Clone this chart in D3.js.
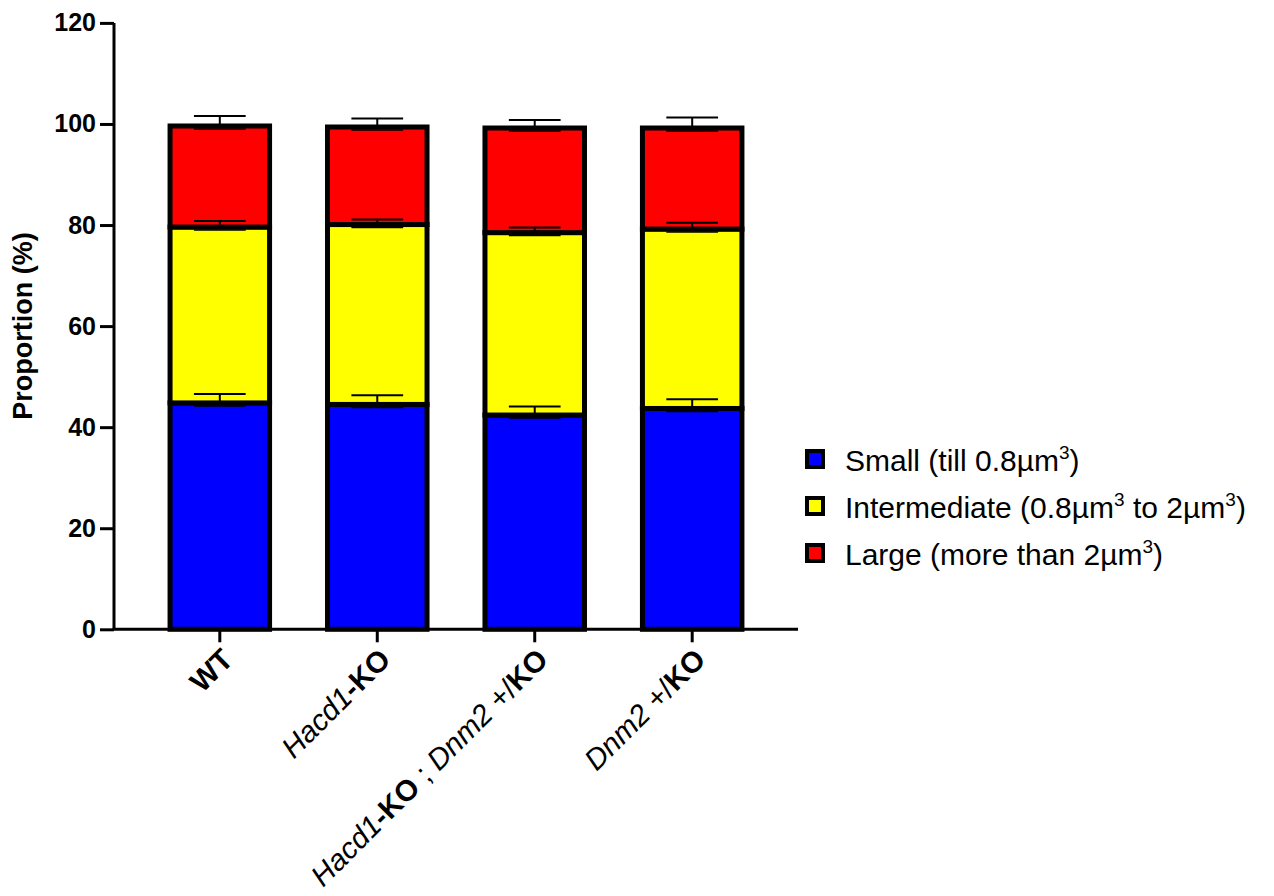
<!DOCTYPE html>
<html>
<head>
<meta charset="utf-8">
<script src="https://cdn.jsdelivr.net/npm/d3@7"></script>
<style>
  body { margin: 0; background: #fff; }
  text { font-family: "Liberation Sans", Arial, sans-serif; fill: #000; }
</style>
</head>
<body>
<div id="chart"></div>
<script>
// groups on the x axis
var groups = ["WT", "Hacd1-KO", "Hacd1-KO ; Dnm2 +/KO", "Dnm2 +/KO"];

// how each group label is typed (text, style)
var groupLabelParts = [
    [["WT", "b"]],
    [["Hacd1", "i"], ["-KO", "b"]],
    [["Hacd1", "i"], ["-KO", "b"], [" ; ", "n"], ["Dnm2", "i"], [" +/", "n"], ["KO", "b"]],
    [["Dnm2", "i"], [" +/", "n"], ["KO", "b"]]
];

// size classes, stacked bottom to top
var sizeClasses = ["small", "intermediate", "large"];
var classColors = ["#0000ff", "#ffff00", "#ff0000"];
var legendParts = [
    [["Small (till 0.8µm", 0], ["3", 1], [")", 0]],
    [["Intermediate (0.8µm", 0], ["3", 1], [" to 2µm", 0], ["3", 1], [")", 0]],
    [["Large (more than 2µm", 0], ["3", 1], [")", 0]]
];

// mean proportions (%)
var smallMean = [44.8, 44.5, 42.4, 43.7];
var intermediateMean = [34.8, 35.6, 36.1, 35.5];
var largeMean = [20.0, 19.3, 20.7, 20.0];

// SEM (%)
var smallSem = [1.75, 1.8, 1.7, 1.8];
var intermediateSem = [1.2, 1.0, 1.0, 1.25];
var largeSem = [2.0, 1.7, 1.6, 2.1];

var yTicks = [0, 20, 40, 60, 80, 100, 120];

// build table for d3.stack
var rows = groups.map(function (g, i) {
    return {
        group: g,
        small: smallMean[i], intermediate: intermediateMean[i], large: largeMean[i],
        small_sem: smallSem[i], intermediate_sem: intermediateSem[i], large_sem: largeSem[i]
    };
});

var width = 1274, height = 896;

var svg = d3.select("#chart").append("svg")
    .attr("width", width)
    .attr("height", height);

var x = d3.scaleBand()
    .domain(groups)
    .range([114, 798])
    .paddingInner(0.368)
    .paddingOuter(0.356);

var y = d3.scaleLinear()
    .domain([0, 120])
    .range([629.3, 22.9]);

var stack = d3.stack().keys(sizeClasses);
var series = stack(rows);

// bars
svg.selectAll(".layer")
    .data(series)
    .enter()
    .append("g")
    .attr("class", "layer")
    .attr("fill", function (d, i) { return classColors[i]; })
    .selectAll("rect")
    .data(function (d) { return d; })
    .enter()
    .append("rect")
    .attr("x", function (d) { return x(d.data.group); })
    .attr("width", x.bandwidth())
    .attr("y", function (d) { return y(d[1]); })
    .attr("height", function (d) { return y(d[0]) - y(d[1]); })
    .attr("stroke", "#000")
    .attr("stroke-width", 5);

// error bars (upward SEM)
var capW = x.bandwidth() * 0.52;
var errs = svg.append("g").attr("class", "errors");
series.forEach(function (layer) {
    layer.forEach(function (d) {
        var cx = x(d.data.group) + x.bandwidth() / 2;
        var sem = d.data[layer.key + "_sem"];
        var top = y(d[1] + sem);
        var g = errs.append("g").attr("stroke", "#000").attr("stroke-width", 2);
        g.append("line")
            .attr("x1", cx).attr("x2", cx)
            .attr("y1", y(d[1])).attr("y2", top);
        g.append("line")
            .attr("x1", cx - capW / 2).attr("x2", cx + capW / 2)
            .attr("y1", top).attr("y2", top);
        g.append("line")
            .attr("x1", cx - capW / 2).attr("x2", cx + capW / 2)
            .attr("y1", y(d[1]) + 3).attr("y2", y(d[1]) + 3)
            .attr("stroke-width", 1.5);
    });
});

// y axis
var yAxis = svg.append("g")
    .attr("transform", "translate(114,0)")
    .call(d3.axisLeft(y).tickValues(yTicks).tickSize(14).tickPadding(4));
yAxis.select(".domain").attr("stroke-width", 3).attr("d", "M0," + y(120) + "V" + y(0));
yAxis.selectAll(".tick line").attr("stroke-width", 3);
yAxis.selectAll(".tick text")
    .style("font-size", "25px")
    .style("font-weight", "bold")
    .attr("font-family", null);

// x axis
var xAxis = svg.append("g")
    .attr("transform", "translate(0," + y(0) + ")")
    .call(d3.axisBottom(x).tickSize(13).tickFormat(""));
xAxis.select(".domain").attr("stroke-width", 3).attr("d", "M112.5,0H798");
xAxis.selectAll(".tick line").attr("stroke-width", 3);

// x labels, rotated
groups.forEach(function (g, i) {
    var cx = x(g) + x.bandwidth() / 2;
    var t = svg.append("text")
        .attr("text-anchor", "end")
        .attr("transform", "translate(" + (cx + 15) + "," + (y(0) + 32) + ") rotate(-45)")
        .style("font-size", "29.5px");
    groupLabelParts[i].forEach(function (p) {
        t.append("tspan")
            .text(p[0])
            .style("font-style", p[1] === "i" ? "italic" : "normal")
            .style("font-weight", p[1] === "b" ? "bold" : "normal");
    });
});

// y title
svg.append("text")
    .attr("text-anchor", "middle")
    .attr("transform", "translate(32," + y(60) + ") rotate(-90)")
    .style("font-size", "27px")
    .style("font-weight", "bold")
    .text("Proportion (%)");

// legend
var legend = svg.append("g").attr("transform", "translate(805,459)");
legendParts.forEach(function (parts, i) {
    var row = legend.append("g").attr("transform", "translate(0," + (i * 47) + ")");
    row.append("rect")
        .attr("x", 2).attr("y", -8)
        .attr("width", 16).attr("height", 16)
        .attr("fill", classColors[i])
        .attr("stroke", "#000")
        .attr("stroke-width", 4);
    var t = row.append("text")
        .attr("x", 40).attr("y", 12)
        .style("font-size", "30px");
    parts.forEach(function (p) {
        var ts = t.append("tspan").text(p[0]);
        if (p[1] === 1) {
            ts.style("font-size", "19px").attr("dy", -12);
        } else if (t.selectAll("tspan").size() > 1) {
            ts.attr("dy", 12);
        }
    });
});
</script>
</body>
</html>
